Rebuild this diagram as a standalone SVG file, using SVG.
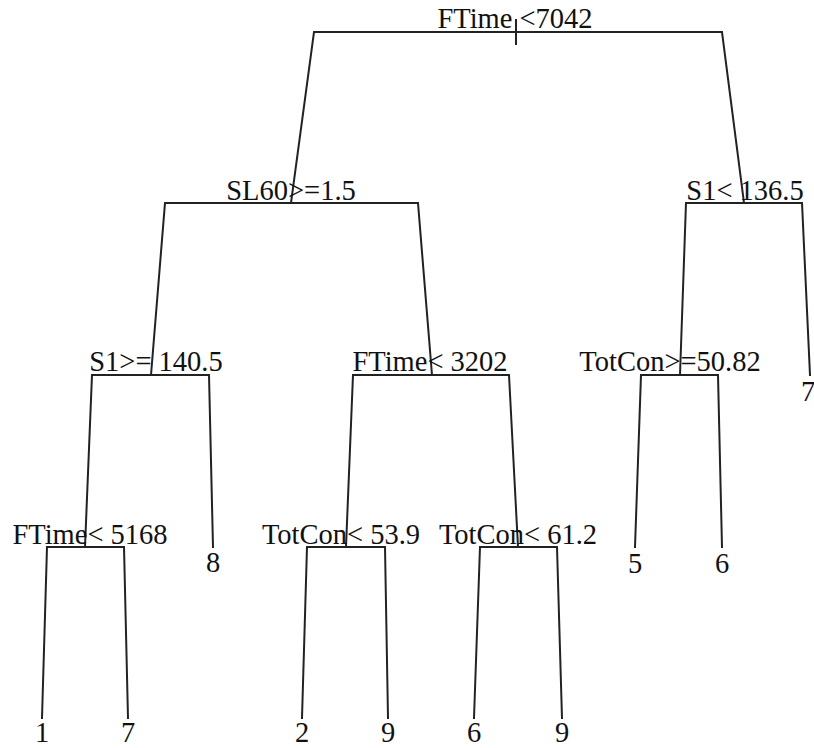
<svg xmlns="http://www.w3.org/2000/svg" width="814" height="748" viewBox="0 0 814 748">
<style>
text{font-family:"Liberation Serif","Times New Roman",serif;font-size:28.5px;fill:#111;text-anchor:middle}
.e{fill:none;stroke:#222;stroke-width:2;stroke-linecap:square;stroke-linejoin:miter}
</style>
<rect width="814" height="748" fill="#fff"/>
<g id="connectors" class="e">
<path d="M291,203 L314,32 L722,32 L744,203"/>
<path d="M516,20 L516,44"/>
<path d="M151,375 L165,203 L418,203 L432,375"/>
<path d="M680,375 L686,203 L802,203 L810,375"/>
<path d="M85,547 L92,375 L209,375 L213,547"/>
<path d="M346,547 L353,375 L509,375 L518,547"/>
<path d="M635,547 L641,375 L718,375 L722,547"/>
<path d="M42,718 L47,547 L124,547 L128,718"/>
<path d="M302,718 L307,547 L385,547 L388,718"/>
<path d="M474,718 L480,547 L557,547 L562,718"/>
</g>
<g id="n1"><text x="515" y="28">FTime <tspan>&lt;7042</tspan></text></g>
<g id="n2"><text x="291" y="200">SL60&gt;=1.5</text></g>
<g id="n3"><text x="745" y="200">S1&lt; 136.5</text></g>
<g id="n4"><text x="156" y="371">S1&gt;= 140.5</text></g>
<g id="n5"><text x="430" y="371">FTime&lt; 3202</text></g>
<g id="n6"><text x="670" y="371">TotCon&gt;=50.82</text></g>
<g id="n7"><text x="808" y="401">7</text></g>
<g id="n8"><text x="90" y="544">FTime&lt; 5168</text></g>
<g id="n9"><text x="213" y="572">8</text></g>
<g id="n10"><text x="341" y="544">TotCon&lt; 53.9</text></g>
<g id="n11"><text x="518" y="544">TotCon&lt; 61.2</text></g>
<g id="n12"><text x="635" y="573">5</text></g>
<g id="n13"><text x="722" y="573">6</text></g>
<g id="n14"><text x="42" y="742">1</text></g>
<g id="n15"><text x="128" y="742">7</text></g>
<g id="n16"><text x="302" y="742">2</text></g>
<g id="n17"><text x="388" y="742">9</text></g>
<g id="n18"><text x="474" y="742">6</text></g>
<g id="n19"><text x="562" y="742">9</text></g>
</svg>
